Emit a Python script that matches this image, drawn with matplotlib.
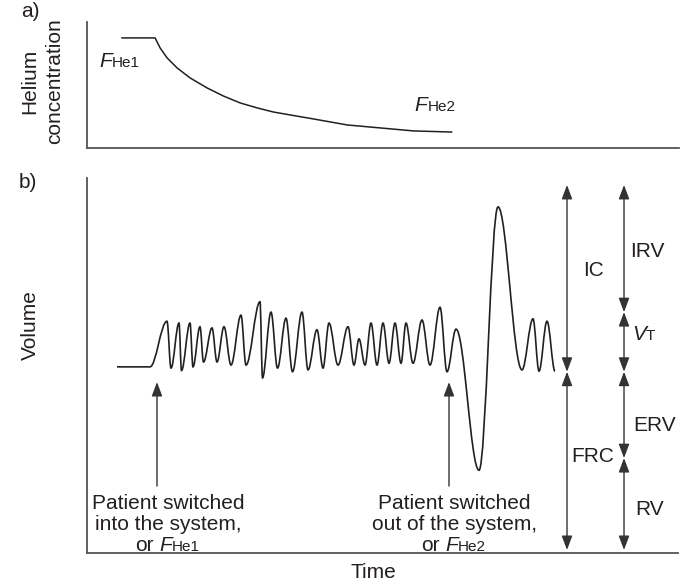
import matplotlib
matplotlib.use('Agg')
import matplotlib.pyplot as plt
from matplotlib.path import Path
from matplotlib.patches import PathPatch

plt.rcParams['font.family'] = ['Liberation Sans', 'DejaVu Sans']

INK = '#231f20'
AXIS = '#555555'

# a) helium concentration (arbitrary %), time in arbitrary units
he_t = [7.0, 13.6, 14.6, 16.0, 18.0, 20.6, 24.0, 27.2, 30.6, 34.0, 37.2, 40.6, 45.2, 52.0, 58.6, 65.2, 72.8]
he_c = [10.0, 10.0, 9.09, 8.18, 7.27, 6.36, 5.45, 4.73, 4.09, 3.64, 3.27, 3.00, 2.64, 2.09, 1.82, 1.55, 1.45]

# b) spirometer trace: flat start, then peaks/troughs of each breath (litres)
vol_t = [6.0, 12.6, 16.0, 16.8, 18.4, 18.9, 20.6, 21.2, 22.6, 23.3, 25.0, 26.0,
         27.4, 28.8, 30.8, 31.8, 34.6, 35.1, 36.8, 38.1, 39.8, 41.1,
         43.0, 44.2, 46.0, 47.2, 48.4, 50.2, 52.2, 53.4, 54.4, 55.6,
         56.8, 58.0, 59.2, 60.4, 61.6, 62.8, 63.8, 65.2, 67.0, 68.6,
         70.6, 72.0, 73.8, 78.4, 82.2, 87.0, 89.2, 90.4, 92.0, 93.6]
vol_v = [3.06, 3.06, 3.81, 3.04, 3.78, 3.00, 3.78, 3.06, 3.72, 3.14, 3.70, 3.14,
         3.72, 3.09, 3.91, 3.09, 4.13, 2.88, 3.96, 3.04, 3.86, 2.98,
         3.96, 3.01, 3.67, 3.04, 3.78, 3.09, 3.72, 3.09, 3.52, 3.09,
         3.78, 3.09, 3.78, 3.12, 3.78, 3.12, 3.78, 3.12, 3.83, 3.09,
         4.04, 2.98, 3.68, 1.36, 5.69, 3.01, 3.85, 2.99, 3.81, 2.99]

# lung volume levels (litres)
TLC = 6.05
VT_TOP = 3.96
FRC = 2.98
RV = 1.56
FLOOR = 0.05

switch_in_t = 14.0
switch_out_t = 72.4
col_left_t = 96.0
col_right_t = 107.4

fig = plt.figure(figsize=(6.85, 5.84), dpi=100)
ax_a = fig.add_axes([0.127, 0.7466, 0.8642, 0.2158])
ax_b = fig.add_axes([0.127, 0.0531, 0.8628, 0.6421])

for ax in (ax_a, ax_b):
    for side in ('top', 'right'):
        ax.spines[side].set_visible(False)
    for side in ('left', 'bottom'):
        ax.spines[side].set_color(AXIS)
        ax.spines[side].set_linewidth(1.3)
    ax.set_xticks([])
    ax.set_yticks([])
    ax.set_xlim(0, 118.2)


def f_label(ax, t, v, sub, prefix=None):
    # italic F followed by a smaller upright subscript on the same baseline
    ax.text(t, v, 'F', style='italic', fontsize=15, color=INK, ha='right', va='baseline')
    ax.text(t, v, sub, fontsize=11, color=INK, ha='left', va='baseline')
    if prefix:
        ax.annotate(prefix, xy=(t, v), xytext=(-13.5, 0), textcoords='offset points',
                    fontsize=15, color=INK, ha='right', va='baseline')


# ---- panel a
ax_a.set_ylim(0, 11.45)
ax_a.plot(he_t, he_c, color=INK, lw=1.1)
f_label(ax_a, 5.0, 7.36, 'He1')
f_label(ax_a, 68.0, 3.36, 'He2')
ax_a.text(-0.0971, 0.53, 'Helium', transform=ax_a.transAxes, rotation=90,
          fontsize=15, color=INK, ha='center', va='center')
ax_a.text(-0.0549, 0.53, 'concentration', transform=ax_a.transAxes, rotation=90,
          fontsize=15, color=INK, ha='center', va='center')

# ---- panel b
ax_b.set_ylim(0, 6.165)
k = 0.364
verts = [(vol_t[0], vol_v[0]), (vol_t[1], vol_v[1])]
codes = [Path.MOVETO, Path.LINETO]
for i in range(1, len(vol_t) - 1):
    t0, v0 = vol_t[i], vol_v[i]
    t1, v1 = vol_t[i + 1], vol_v[i + 1]
    dt = t1 - t0
    verts += [(t0 + k * dt, v0), (t1 - k * dt, v1), (t1, v1)]
    codes += [Path.CURVE4] * 3
ax_b.add_patch(PathPatch(Path(verts, codes), facecolor='none', edgecolor=INK, lw=1.2))


def arrow(t, v_from, v_to, style):
    ax_b.annotate('', xy=(t, v_to), xytext=(t, v_from),
                  arrowprops=dict(arrowstyle=style, mutation_scale=10, lw=1.0,
                                  color='#333333', shrinkA=0, shrinkB=0))


both = '<|-|>,head_length=0.85,head_width=0.32'
one = '-|>,head_length=0.85,head_width=0.32'
arrow(col_left_t, TLC, FRC, both)
arrow(col_left_t, FRC, FLOOR, both)
arrow(col_right_t, TLC, VT_TOP, both)
arrow(col_right_t, VT_TOP, FRC, both)
arrow(col_right_t, FRC, RV, both)
arrow(col_right_t, RV, FLOOR, both)
arrow(switch_in_t, 1.10, 2.81, one)
arrow(switch_out_t, 1.10, 2.81, one)

lab = dict(fontsize=15, color=INK, ha='center', va='center')
ax_b.text(101.2, 4.65, 'IC', **lab)
ax_b.text(112.0, 4.95, 'IRV', **lab)
ax_b.text(113.6, 2.10, 'ERV', **lab)
ax_b.text(101.2, 1.58, 'FRC', **lab)
ax_b.text(112.6, 0.71, 'RV', **lab)
ax_b.text(111.8, 3.50, 'V', style='italic', fontsize=15, color=INK, ha='right', va='baseline')
ax_b.text(111.8, 3.50, 'T', fontsize=11, color=INK, ha='left', va='baseline')

note = dict(fontsize=15, color=INK, ha='center', va='baseline')
ax_b.text(16.2, 0.72, 'Patient switched', **note)
ax_b.text(16.2, 0.38, 'into the system,', **note)
f_label(ax_b, 17.0, 0.03, 'He1', prefix='or')
ax_b.text(73.5, 0.72, 'Patient switched', **note)
ax_b.text(73.5, 0.38, 'out of the system,', **note)
f_label(ax_b, 74.2, 0.03, 'He2', prefix='or')

ax_b.text(-0.096, 0.608, 'Volume', transform=ax_b.transAxes, rotation=90, **lab)
ax_b.set_xlabel('Time', fontsize=15, color=INK)
ax_b.xaxis.set_label_coords(0.484, -0.051)
ax_b.xaxis.label.set_verticalalignment('center')

fig.text(0.0438, 0.981, 'a)', fontsize=15, color=INK, ha='center', va='center')
fig.text(0.041, 0.687, 'b)', fontsize=15, color=INK, ha='center', va='center')

fig.savefig('out.png', dpi=100)
